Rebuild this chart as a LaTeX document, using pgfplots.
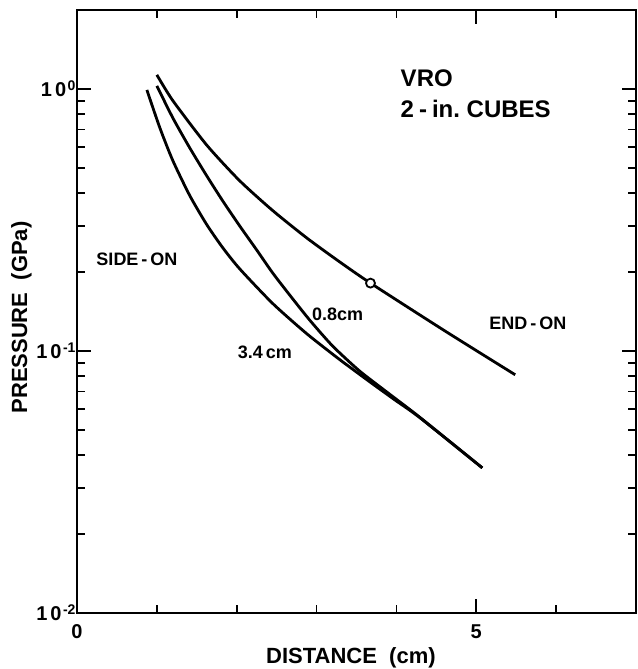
\documentclass[border=0pt]{standalone}
\usepackage{fontspec}
\setmainfont{Liberation Sans}
\usepackage{pgfplots}
\pgfplotsset{compat=1.18}
\newcommand{\tl}{\bfseries\fontsize{20bp}{22bp}\selectfont}
\newcommand{\tsup}[1]{\hspace{1.5bp}\raisebox{6bp}{\fontsize{14bp}{14bp}\selectfont #1}}
\begin{document}
\begin{tikzpicture}
\begin{axis}[
  scale only axis,
  width=559bp, height=603bp,
  xmin=0, xmax=7,
  ymode=log, ymin=0.01, ymax=2,
  axis line style={line width=2.4bp},
  xtick={0,5}, xticklabels={{\tl 0},{\tl 5}},
  minor xtick={1,2,3,4,6},
  ytick={0.01,0.1,1},
  yticklabels={{\tl 1\hspace{3bp}0\tsup{-2}},{\tl 1\hspace{3bp}0\tsup{-1}},{\tl 1\hspace{3bp}0\tsup{0}}},
  tick align=inside,
  tick pos=both,
  major tick length=14bp,
  minor tick length=8bp,
  every tick/.style={black, line width=1.8bp},
  xticklabel style={yshift=-8bp},
  yticklabel style={xshift=2bp},
  clip=false,
]
\addplot[black, line width=2.8bp, smooth, tension=0.4] coordinates {
 (1.0,1.131) (1.2,0.902) (1.625,0.610) (2.0375,0.446) (2.45,0.3435) (2.875,0.2702) (3.2875,0.2189) (3.675,0.1815) (4.6,0.1196) (5.4875,0.0811)
};
\addplot[black, line width=2.8bp, smooth, tension=0.4] coordinates {
 (1.0,1.027) (1.2,0.775) (1.4125,0.595) (1.625,0.4656) (1.825,0.3737) (2.0375,0.2999) (2.25,0.2429) (2.45,0.1985) (2.6625,0.1636) (2.9125,0.1313) (3.2,0.1045) (3.5375,0.0839) (3.9125,0.0685) (4.2875,0.0560) (5.075,0.0358)
};
\addplot[black, line width=2.8bp, smooth, tension=0.4] coordinates {
 (0.875,0.991) (1.0375,0.7104) (1.2,0.5325) (1.4125,0.3914) (1.625,0.3034) (1.825,0.2477) (2.0375,0.2057) (2.45,0.1518) (2.875,0.1165) (3.2875,0.0928) (3.6625,0.0764) (3.975,0.0652) (4.2875,0.0558) (5.075,0.0358)
};
\addplot[only marks, mark=*, mark size=4.5bp, mark options={fill=white, draw=black, line width=1.8bp}] coordinates {(3.675,0.1815)};
\node[anchor=west, font=\bfseries\fontsize{24bp}{26bp}\selectfont] at (axis cs:4.01,1.10) {VRO};
\node[anchor=west, font=\bfseries\fontsize{24bp}{26bp}\selectfont] at (axis cs:4.01,0.839) {2\hspace{5bp}-\hspace{5bp}in.\ CUBES};
\node[anchor=west, font=\bfseries\fontsize{18bp}{20bp}\selectfont] at (axis cs:0.20,0.224) {SIDE\,-\,ON};
\node[anchor=west, font=\bfseries\fontsize{18bp}{20bp}\selectfont] at (axis cs:2.90,0.138) {0.8cm};
\node[anchor=west, font=\bfseries\fontsize{18bp}{20bp}\selectfont] at (axis cs:1.97,0.0984) {3.4\,cm};
\node[anchor=west, font=\bfseries\fontsize{18bp}{20bp}\selectfont] at (axis cs:5.12,0.128) {END\,-\,ON};
\coordinate (ll) at (rel axis cs:0,0);
\coordinate (ur) at (rel axis cs:1,1);
\coordinate (xl) at (rel axis cs:0.49,0);
\coordinate (yl) at (rel axis cs:0,0.49);
\end{axis}
\node[anchor=base, font=\bfseries\fontsize{22bp}{24bp}\selectfont] at ([yshift=-50bp]xl) {DISTANCE\ \ (cm)};
\node[anchor=base, rotate=90, font=\bfseries\fontsize{22bp}{24bp}\selectfont] at ([xshift=-50bp]yl) {PRESSURE\ \ (GPa)};
\pgfresetboundingbox
\useasboundingbox ([shift={(-77bp,-56bp)}]ll) rectangle ([shift={(2bp,10bp)}]ur);
\end{tikzpicture}
\end{document}
